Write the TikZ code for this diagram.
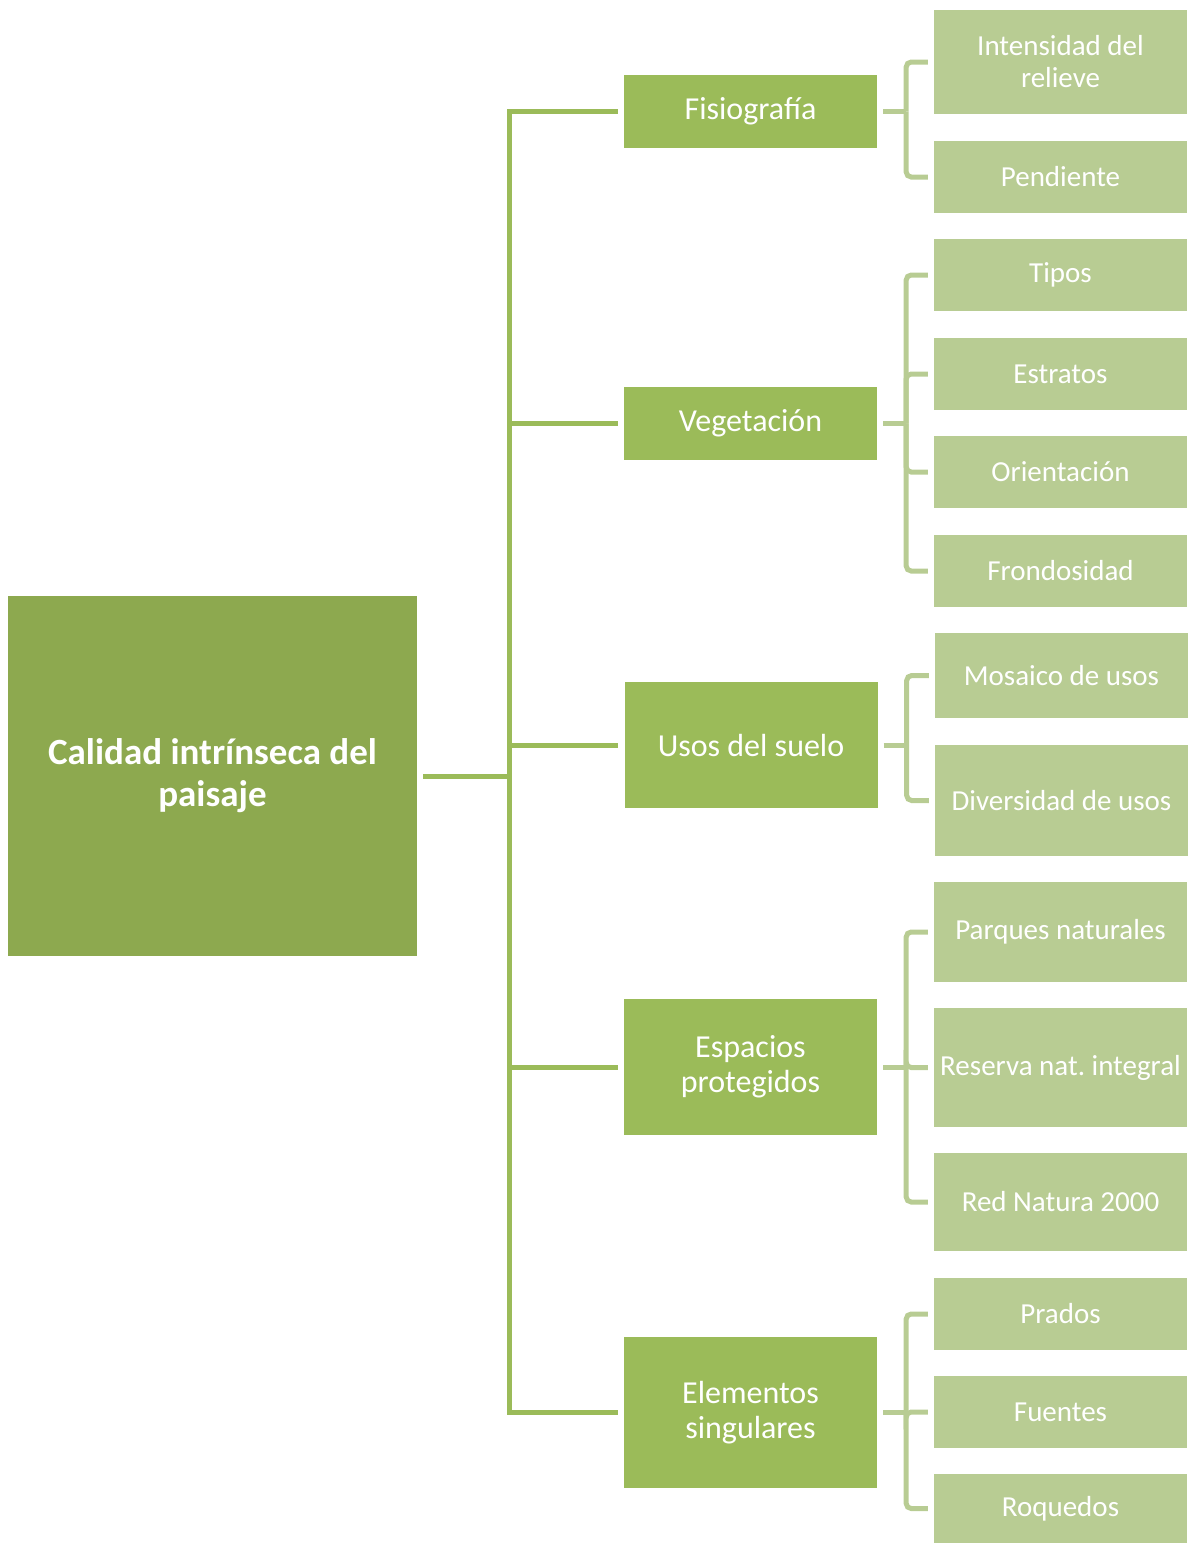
\documentclass[tikz,border=0pt]{standalone}
\usepackage{fontspec}
\setmainfont{Carlito}
\usepackage{xcolor}
\usepackage{tikz}
\usetikzlibrary{positioning}

\definecolor{rootgreen}{HTML}{8DA94F}
\definecolor{midgreen}{HTML}{9BBB59}
\definecolor{leafgreen}{HTML}{B8CC93}

\frenchspacing

\begin{document}
\begin{tikzpicture}[
    x=1pt, y=-1pt,
    rootbox/.style={rectangle, fill=rootgreen, text=white, minimum width=409pt, minimum height=360pt, align=center, inner sep=4pt, font=\fontsize{37}{42}\selectfont\bfseries},
    midbox/.style={rectangle, fill=midgreen, text=white, minimum width=253pt, align=center, inner sep=3pt, font=\fontsize{32}{35}\selectfont},
    leafbox/.style={rectangle, fill=leafgreen, text=white, minimum width=253pt, align=center, inner sep=2pt, font=\fontsize{29}{32}\selectfont},
    link/.style={draw=midgreen, line width=5pt},
    sublink/.style={draw=leafgreen, line width=5pt, rounded corners=5pt}
]
\useasboundingbox (0,0) rectangle (1190,1543);

\node[rootbox] (root) at (212.5,776) {Calidad intrínseca del\\paisaje};

\node[midbox, minimum height=73pt] (fis) at (750.5,111.5) {Fisiografía};
\node[midbox, minimum height=73pt] (veg) at (750.5,423.5) {Vegetación};
\node[midbox, minimum height=126pt] (uso) at (751,745) {Usos del suelo};
\node[midbox, minimum height=136pt] (esp) at (750.5,1067) {Espacios\\protegidos};
\node[midbox, minimum height=151pt] (ele) at (750.5,1412.5) {Elementos\\singulares};

\node[leafbox, minimum height=104pt] (int) at (1060.5,62) {Intensidad del\\relieve};
\node[leafbox, minimum height=72pt] (pen) at (1060.5,177) {Pendiente};
\node[leafbox, minimum height=72pt] (tip) at (1060.5,275) {Tipos};
\node[leafbox, minimum height=72pt] (est) at (1060.5,374) {Estratos};
\node[leafbox, minimum height=72pt] (ori) at (1060.5,472) {Orientación};
\node[leafbox, minimum height=72pt] (fro) at (1060.5,571) {Frondosidad};
\node[leafbox, minimum height=85pt] (mos) at (1061.5,675.5) {Mosaico de usos};
\node[leafbox, minimum height=111pt] (div) at (1061.5,800.5) {Diversidad de usos};
\node[leafbox, minimum height=100pt] (par) at (1060.5,932) {Parques naturales};
\node[leafbox, minimum height=119pt] (res) at (1060.5,1067.5) {Reserva nat. integral};
\node[leafbox, minimum height=98pt] (red) at (1060.5,1202) {Red Natura 2000};
\node[leafbox, minimum height=72pt] (pra) at (1060.5,1314) {Prados};
\node[leafbox, minimum height=72pt] (fue) at (1060.5,1412) {Fuentes};
\node[leafbox, minimum height=69pt] (roq) at (1060.5,1508.5) {Roquedos};

\foreach \m in {fis,veg,uso,esp,ele}
    \draw[link] ([xshift=6pt]root.east) -- ++(86,0) |- ([xshift=-6pt]\m.west);

\foreach \m/\ls in {fis/{int,pen}, veg/{tip,est,ori,fro}, uso/{mos,div}, esp/{par,res,red}, ele/{pra,fue,roq}} {
    \draw[sublink] ([xshift=6pt]\m.east) -- ++(23,0) coordinate (\m-j);
    \foreach \l in \ls
        \draw[sublink] (\m-j) |- ([xshift=-6pt]\l.west);
}
\end{tikzpicture}
\end{document}
